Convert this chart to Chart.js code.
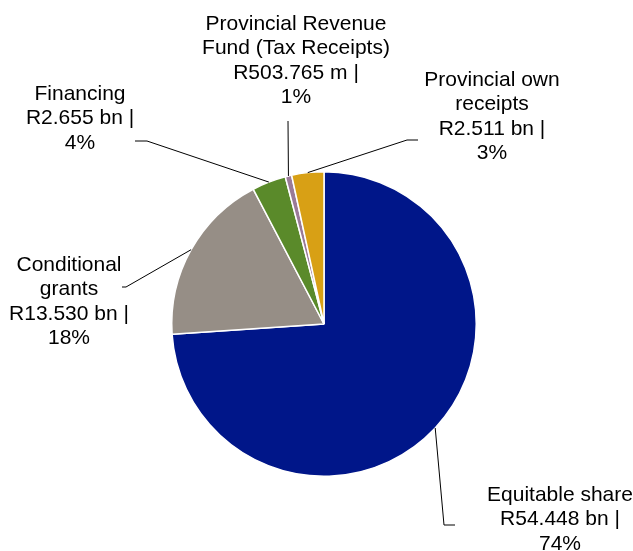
<!DOCTYPE html>
<html>
<head>
<meta charset="utf-8">
<script src="https://cdn.jsdelivr.net/npm/chart.js"></script>
<style>
  html, body { margin: 0; padding: 0; background: #fff; }
  canvas { display: block; }
</style>
</head>
<body>
<canvas id="myChart" width="633" height="551"></canvas>
<script>
// Slices, clockwise from 12 o'clock
var categories = ["Equitable share", "Conditional\ngrants", "Financing", "Provincial Revenue\nFund (Tax Receipts)", "Provincial own\nreceipts"];
var valueLabels = ["R54.448 bn", "R13.530 bn", "R2.655 bn", "R503.765 m", "R2.511 bn"];
var amounts = [54.448, 13.530, 2.655, 0.503765, 2.511];   // R bn
var colours = ["#001689", "#968e86", "#5a8a2a", "#9a7a98", "#d8a015"];

var total = amounts.reduce(function (a, b) { return a + b; }, 0);

// where each label sits: text centre x, first baseline y, elbow and end of the leader line
var labelLayout = [
  { x: 560, y: 501, elbow: [444, 525], end: [455, 525] },
  { x: 69,  y: 271, elbow: [126, 287], end: [122, 287] },
  { x: 80,  y: 100, elbow: [147, 141], end: [135, 141] },
  { x: 296, y: 30,  elbow: [288, 121], end: [288, 121] },
  { x: 492, y: 86,  elbow: [407, 140], end: [418, 140] }
];

var calloutPlugin = {
  id: 'callouts',
  afterDatasetsDraw: function (chart) {
    var ctx = chart.ctx;
    var meta = chart.getDatasetMeta(0);
    ctx.save();
    meta.data.forEach(function (arc, i) {
      var p = arc.getProps(['x', 'y', 'startAngle', 'endAngle', 'outerRadius'], true);
      var mid = (p.startAngle + p.endAngle) / 2;
      var ax = p.x + Math.cos(mid) * p.outerRadius;
      var ay = p.y + Math.sin(mid) * p.outerRadius;
      var lay = labelLayout[i];

      ctx.strokeStyle = '#000';
      ctx.lineWidth = 1;
      ctx.beginPath();
      ctx.moveTo(ax, ay);
      ctx.lineTo(lay.elbow[0], lay.elbow[1]);
      ctx.lineTo(lay.end[0], lay.end[1]);
      ctx.stroke();

      var pct = Math.round(amounts[i] / total * 100);
      var lines = categories[i].split("\n").concat([valueLabels[i] + " |", pct + "%"]);
      ctx.fillStyle = '#000';
      ctx.font = '21px "Liberation Sans", Arial, sans-serif';
      ctx.textAlign = 'center';
      ctx.textBaseline = 'alphabetic';
      lines.forEach(function (t, k) {
        ctx.fillText(t, lay.x, lay.y + k * 24.4);
      });
    });
    ctx.restore();
  }
};

var ctx = document.getElementById("myChart");

var myChart = new Chart(ctx, {
  type: 'pie',
  data: {
    labels: categories,
    datasets: [
      {
        data: amounts,
        backgroundColor: colours,
        borderColor: "#ffffff",
        borderWidth: 1.5
      }
    ]
  },
  options: {
    responsive: false,
    animation: false,
    layout: {
      padding: { left: 171, right: 156, top: 171, bottom: 74 }
    },
    plugins: {
      legend: { display: false },
      tooltip: { enabled: false }
    }
  },
  plugins: [calloutPlugin]
});
</script>
</body>
</html>
